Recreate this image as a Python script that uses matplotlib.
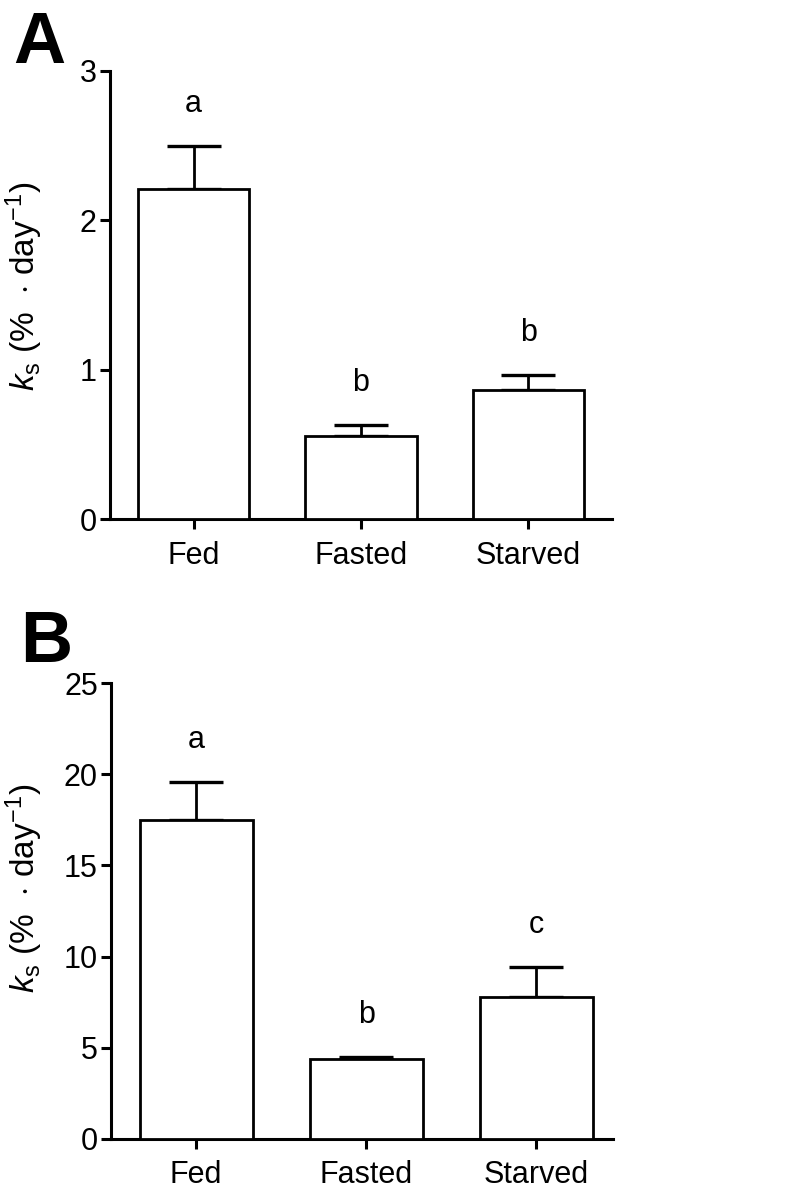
import numpy as np
import matplotlib
matplotlib.use('Agg')
from matplotlib import pyplot as plt

plt.rcParams['font.family'] = ['Liberation Sans', 'DejaVu Sans']
plt.rcParams['mathtext.fontset'] = 'custom'
plt.rcParams['mathtext.rm'] = 'Liberation Sans'
plt.rcParams['mathtext.it'] = 'Liberation Sans:italic'

groups = ['Fed', 'Fasted', 'Starved']

# panel A
means_a = [2.21, 0.557, 0.866]
sem_a = [0.29, 0.073, 0.10]
letters_a = ['a', 'b', 'b']

# panel B
means_b = [17.49, 4.39, 7.78]
sem_b = [2.08, 0.11, 1.65]
letters_b = ['a', 'b', 'c']

fig = plt.figure(figsize=(8.01, 11.97), dpi=100)
ax_a = fig.add_axes([0.1373, 0.5664, 0.6267, 0.3743])
ax_b = fig.add_axes([0.1386, 0.0485, 0.6267, 0.3809])

lw = 2.2
ylab = r'$k_{\rm s}$ (%  $\cdot$ day$^{-1}$)'

def draw(ax, means, sem, letters, ymax, yticks, xright, label_xy):
    x = np.arange(len(groups))
    ax.bar(x, means, width=0.665, color='white', edgecolor='black', linewidth=2.0, zorder=3)
    ax.errorbar(x, means, yerr=[np.zeros(len(sem)), sem], fmt='none', ecolor='black',
                elinewidth=2.0, capsize=19.5, capthick=2.4, zorder=2)
    for i in range(len(groups)):
        ax.annotate(letters[i], (x[i], means[i] + sem[i]), xytext=(0, 30),
                    textcoords='offset points', ha='center', va='center', fontsize=22)
    ax.set_xlim(-0.5, xright)
    ax.set_ylim(0, ymax)
    ax.set_yticks(yticks)
    ax.set_xticks(x)
    ax.set_xticklabels(groups)
    for s in ['top', 'right']:
        ax.spines[s].set_visible(False)
    for s in ['left', 'bottom']:
        ax.spines[s].set_linewidth(lw)
    ax.tick_params(axis='both', width=lw, length=7.5, labelsize=22)
    ax.tick_params(axis='x', pad=8)
    ax.tick_params(axis='y', pad=2)
    ax.set_ylabel(ylab, fontsize=24, va='center')
    ax.yaxis.set_label_coords(label_xy[0], label_xy[1])

draw(ax_a, means_a, sem_a, letters_a, 3, [0, 1, 2, 3], 2.5, (-0.171, 0.52))
draw(ax_b, means_b, sem_b, letters_b, 25, [0, 5, 10, 15, 20, 25], 2.45, (-0.173, 0.55))

fig.text(0.017, 0.947, 'A', fontsize=52, fontweight='bold', ha='left', va='baseline')
fig.text(0.025, 0.447, 'B', fontsize=52, fontweight='bold', ha='left', va='baseline')

fig.savefig('out.png', dpi=100)
